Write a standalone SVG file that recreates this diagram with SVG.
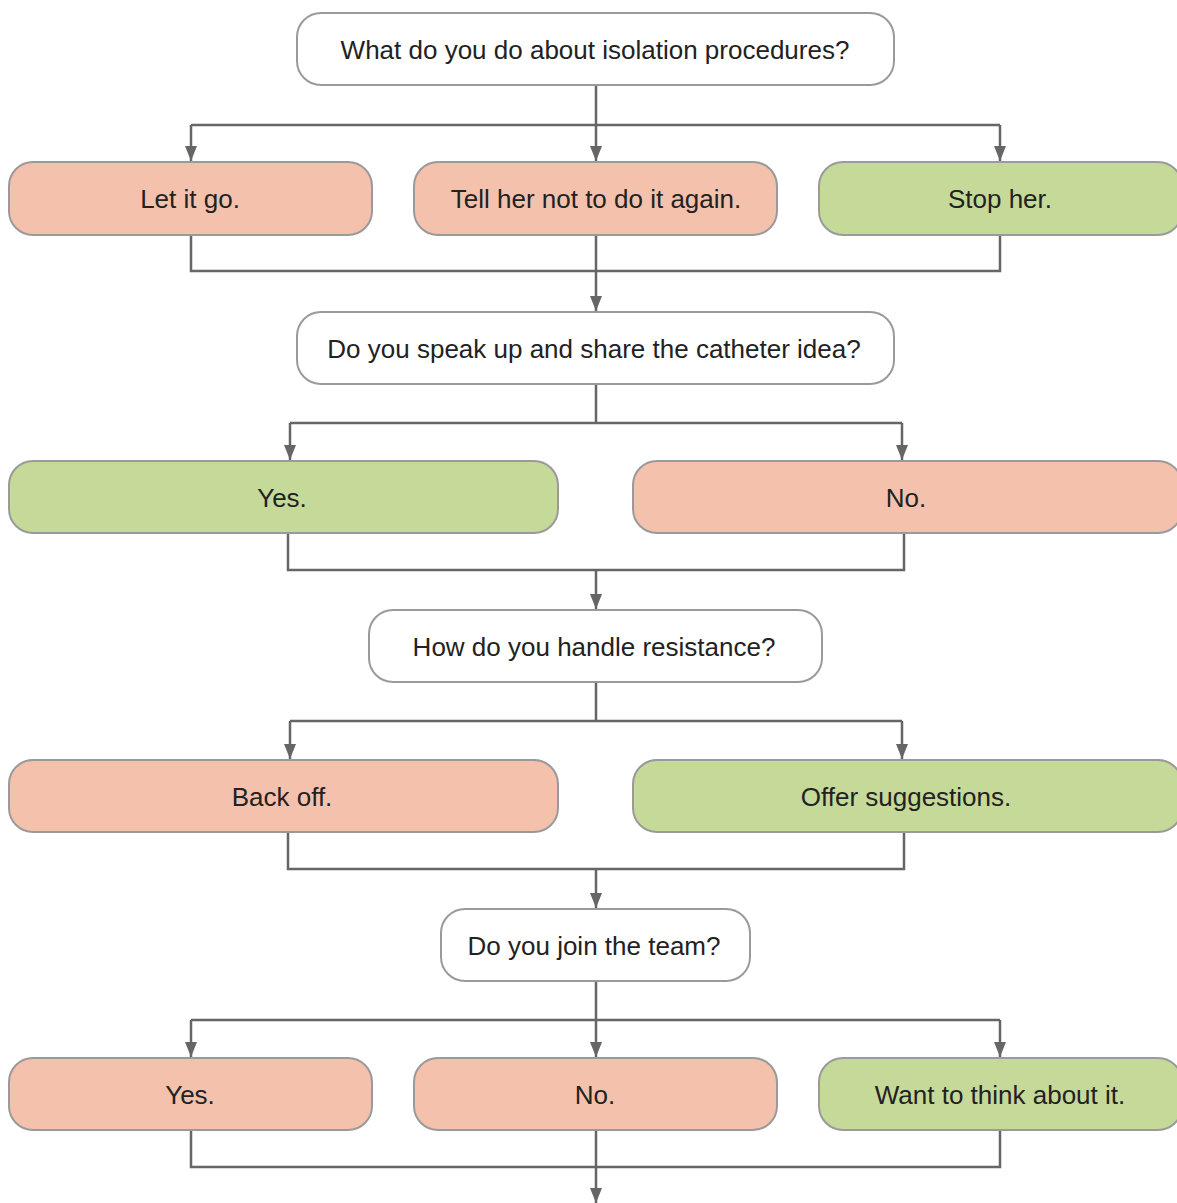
<svg xmlns="http://www.w3.org/2000/svg" width="1177" height="1203" viewBox="0 0 1177 1203">
<defs>
<marker id="arr" markerWidth="15" markerHeight="12" refX="15" refY="6" orient="auto" markerUnits="userSpaceOnUse" viewBox="0 0 15 12">
<path d="M0,0 L15,6 L0,12 Z" fill="#666666"/>
</marker>
<style>
.q rect{fill:#ffffff;stroke:#9a9a9a;stroke-width:2}
.r rect{fill:#f4c1ad;stroke:#9a9a9a;stroke-width:2}
.g rect{fill:#c5d999;stroke:#9a9a9a;stroke-width:2}
text{font-family:"Liberation Sans",Arial,sans-serif;font-size:26px;fill:#222222;text-anchor:middle;dominant-baseline:central}
.c path{fill:none;stroke:#666666;stroke-width:2.5}
</style>
</defs>
<rect width="1177" height="1203" fill="#ffffff"/>
<g class="c" id="connectors">
<path d="M596,85 V125"/>
<path d="M191,125 H1000"/>
<path d="M191,125 V161" marker-end="url(#arr)"/>
<path d="M596,125 V161" marker-end="url(#arr)"/>
<path d="M1000,125 V161" marker-end="url(#arr)"/>
<path d="M191,235 V271 H1000 V235"/>
<path d="M596,235 V311" marker-end="url(#arr)"/>
<path d="M596,384 V423"/>
<path d="M290,423 H902"/>
<path d="M290,423 V460" marker-end="url(#arr)"/>
<path d="M902,423 V460" marker-end="url(#arr)"/>
<path d="M288,533 V570 H904 V533"/>
<path d="M596,570 V609" marker-end="url(#arr)"/>
<path d="M596,682 V721"/>
<path d="M290,721 H902"/>
<path d="M290,721 V759" marker-end="url(#arr)"/>
<path d="M902,721 V759" marker-end="url(#arr)"/>
<path d="M288,832 V869 H904 V832"/>
<path d="M596,869 V908" marker-end="url(#arr)"/>
<path d="M596,981 V1020"/>
<path d="M191,1020 H1000"/>
<path d="M191,1020 V1057" marker-end="url(#arr)"/>
<path d="M596,1020 V1057" marker-end="url(#arr)"/>
<path d="M1000,1020 V1057" marker-end="url(#arr)"/>
<path d="M191,1130 V1167 H1000 V1130"/>
<path d="M596,1130 V1203" marker-end="url(#arr)"/>
</g>
<g id="n1" class="q"><rect x="297" y="13" width="597" height="72" rx="24"/><text x="595" y="50">What do you do about isolation procedures?</text></g>
<g id="n2" class="r"><rect x="9" y="162" width="363" height="73" rx="24"/><text x="190" y="199">Let it go.</text></g>
<g id="n3" class="r"><rect x="414" y="162" width="363" height="73" rx="24"/><text x="596" y="199">Tell her not to do it again.</text></g>
<g id="n4" class="g"><rect x="819" y="162" width="363" height="73" rx="24"/><text x="1000" y="199">Stop her.</text></g>
<g id="n5" class="q"><rect x="297" y="312" width="597" height="72" rx="24"/><text x="594" y="349">Do you speak up and share the catheter idea?</text></g>
<g id="n6" class="g"><rect x="9" y="461" width="549" height="72" rx="24"/><text x="282" y="498">Yes.</text></g>
<g id="n7" class="r"><rect x="633" y="461" width="549" height="72" rx="24"/><text x="906" y="498">No.</text></g>
<g id="n8" class="q"><rect x="369" y="610" width="453" height="72" rx="24"/><text x="594" y="647">How do you handle resistance?</text></g>
<g id="n9" class="r"><rect x="9" y="760" width="549" height="72" rx="24"/><text x="282" y="797">Back off.</text></g>
<g id="n10" class="g"><rect x="633" y="760" width="549" height="72" rx="24"/><text x="906" y="797">Offer suggestions.</text></g>
<g id="n11" class="q"><rect x="441" y="909" width="309" height="72" rx="24"/><text x="594" y="946">Do you join the team?</text></g>
<g id="n12" class="r"><rect x="9" y="1058" width="363" height="72" rx="24"/><text x="190" y="1095">Yes.</text></g>
<g id="n13" class="r"><rect x="414" y="1058" width="363" height="72" rx="24"/><text x="595" y="1095">No.</text></g>
<g id="n14" class="g"><rect x="819" y="1058" width="363" height="72" rx="24"/><text x="1000" y="1095">Want to think about it.</text></g>
</svg>
